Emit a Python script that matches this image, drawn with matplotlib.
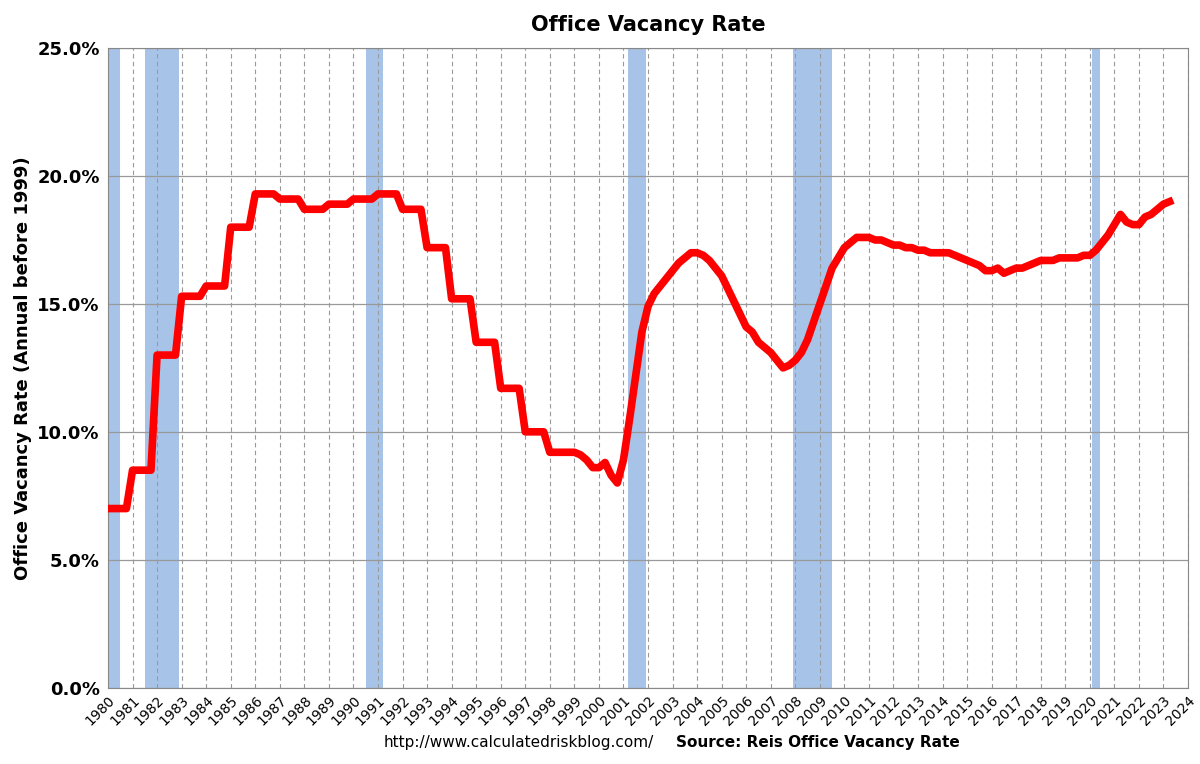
import numpy as np
import matplotlib.pyplot as plt
from matplotlib.ticker import FuncFormatter

# annual values (before 1999)
annual_years = list(range(1980, 1999))
annual_rate = [7.0, 8.5, 13.0, 15.3, 15.7, 18.0, 19.3, 19.1, 18.7, 18.9,
               19.1, 19.3, 18.7, 17.2, 15.2, 13.5, 11.7, 10.0, 9.2]

# quarterly values from 1999 Q1
quarterly_start = 1999
quarterly_rate = [
    9.2, 9.1, 8.9, 8.6,      # 1999
    8.6, 8.8, 8.3, 8.0,      # 2000
    8.9, 10.5, 12.2, 13.9,   # 2001
    14.9, 15.4, 15.7, 16.0,  # 2002
    16.3, 16.6, 16.8, 17.0,  # 2003
    17.0, 16.9, 16.7, 16.4,  # 2004
    16.1, 15.6, 15.1, 14.6,  # 2005
    14.1, 13.9, 13.5, 13.3,  # 2006
    13.1, 12.8, 12.5, 12.6,  # 2007
    12.8, 13.1, 13.6, 14.3,  # 2008
    15.0, 15.7, 16.4, 16.8,  # 2009
    17.2, 17.4, 17.6, 17.6,  # 2010
    17.6, 17.5, 17.5, 17.4,  # 2011
    17.3, 17.3, 17.2, 17.2,  # 2012
    17.1, 17.1, 17.0, 17.0,  # 2013
    17.0, 17.0, 16.9, 16.8,  # 2014
    16.7, 16.6, 16.5, 16.3,  # 2015
    16.3, 16.4, 16.2, 16.3,  # 2016
    16.4, 16.4, 16.5, 16.6,  # 2017
    16.7, 16.7, 16.7, 16.8,  # 2018
    16.8, 16.8, 16.8, 16.9,  # 2019
    16.9, 17.1, 17.4, 17.7,  # 2020
    18.1, 18.5, 18.2, 18.1,  # 2021
    18.1, 18.4, 18.5, 18.7,  # 2022
    18.9, 19.0,              # 2023
]

recessions = [(1980.0, 1980.5), (1981.5, 1982.9), (1990.5, 1991.2),
              (2001.2, 2001.9), (2007.9, 2009.5), (2020.1, 2020.4)]

x, y = [], []
for yr, v in zip(annual_years, annual_rate):
    x += [yr, yr + 0.75]
    y += [v, v]
for i, v in enumerate(quarterly_rate):
    x.append(quarterly_start + i * 0.25)
    y.append(v)

fig = plt.figure(figsize=(12, 7.64), dpi=100)
ax = fig.add_axes([0.09, 0.1, 0.9, 0.837])

for a, b in recessions:
    ax.axvspan(a, b, color="#a7c4e8", zorder=1, lw=0)

ax.plot(x, y, color="#ff0000", lw=5.5, zorder=3, solid_joinstyle="round")

ax.set_xlim(1980, 2024)
ax.set_ylim(0, 25)
ax.set_xticks(range(1980, 2025))
ax.set_xticklabels([str(t) for t in range(1980, 2025)], rotation=45,
                   ha="right", rotation_mode="anchor", fontsize=10)
ax.set_yticks(np.arange(0, 26, 5))
ax.yaxis.set_major_formatter(FuncFormatter(lambda v, p: f"{v:.1f}%"))
for lab in ax.get_yticklabels():
    lab.set_fontsize(13)
    lab.set_fontweight("bold")
ax.tick_params(axis="x", length=0, pad=4)
ax.tick_params(axis="y", length=0, pad=6)

ax.grid(axis="x", color="#999999", ls=(0, (4, 3)), lw=0.8, zorder=0)
ax.grid(axis="y", color="#999999", ls="-", lw=0.9, zorder=0)
for s in ax.spines.values():
    s.set_color("#888888")

ax.set_ylabel("Office Vacancy Rate (Annual before 1999)", fontsize=13,
              fontweight="bold")
ax.set_title("Office Vacancy Rate", fontsize=15, fontweight="bold", pad=12)

fig.text(0.545, 0.022, "http://www.calculatedriskblog.com/", ha="right",
         fontsize=11)
fig.text(0.563, 0.022, "Source: Reis Office Vacancy Rate", ha="left",
         fontsize=11, fontweight="bold")

fig.savefig("out.png", dpi=100)
